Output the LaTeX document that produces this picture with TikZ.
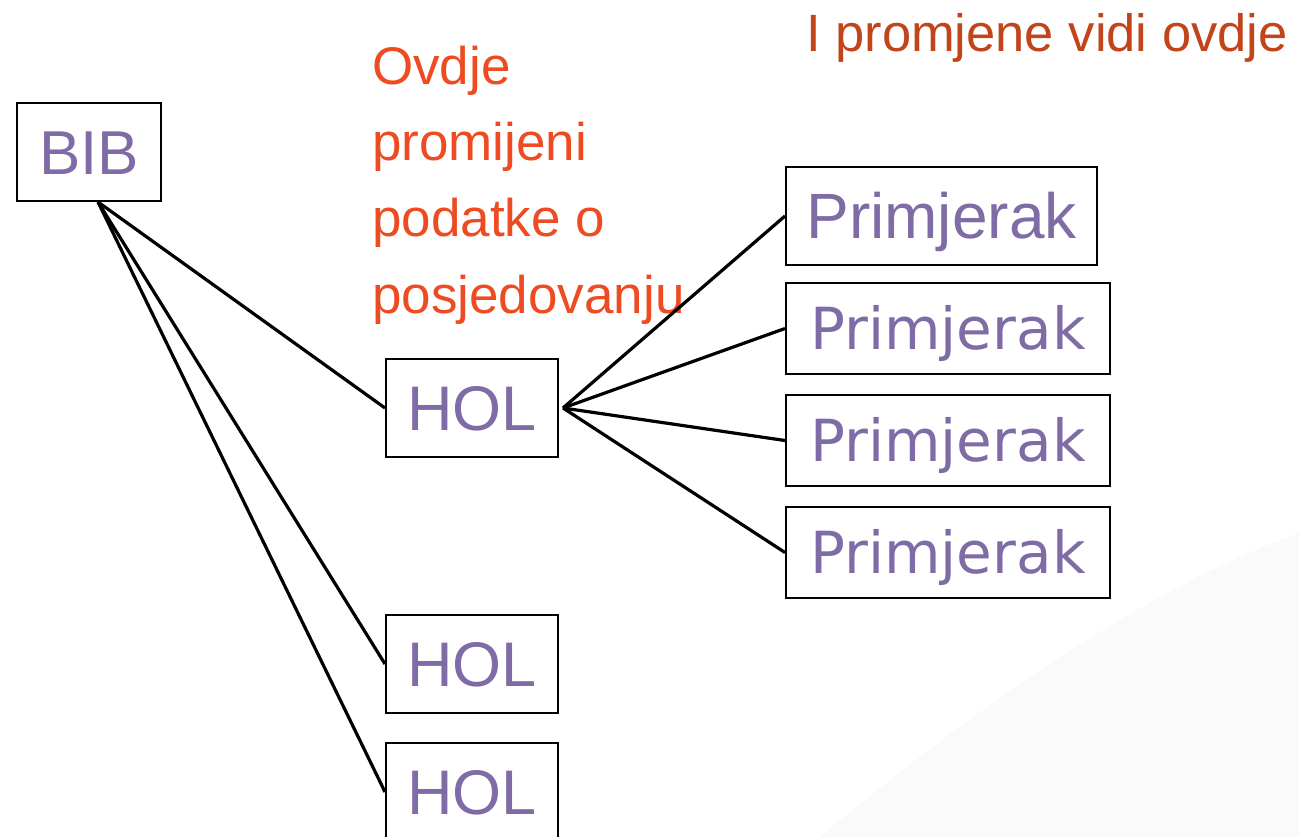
\documentclass[tikz,border=0pt]{standalone}
\usepackage{fontspec}
\setmainfont{Liberation Sans}
\newfontfamily\dvs{DejaVu Sans}
\definecolor{boxtext}{HTML}{7F6BA5}
\definecolor{noteorange}{HTML}{EE4B22}
\definecolor{titleorange}{HTML}{C2441A}
\definecolor{swoosh}{HTML}{FAFAFA}
\begin{document}
\begin{tikzpicture}[x=1pt,y=-1pt,
  box/.style={draw=black, line width=2pt, fill=white, inner sep=0pt, text depth=0pt, text=boxtext},
  bibbox/.style={box, minimum width=144pt, minimum height=98pt, text height=45pt, font=\fontsize{62}{70}\selectfont},
  holbox/.style={box, minimum width=172pt, minimum height=98pt, text height=45pt, font=\fontsize{63}{70}\selectfont},
  pbox/.style={box, minimum width=324pt, minimum height=91pt, text height=42pt, font=\dvs\fontsize{58}{66}\selectfont},
  pboxa/.style={box, minimum width=311pt, minimum height=98pt, text height=46pt, font=\fontsize{64}{70}\selectfont},
  link/.style={draw=black, line width=3.2pt},
  note/.style={anchor=base west, inner sep=0pt, text=noteorange, font=\fontsize{53}{60}\selectfont}
]
\useasboundingbox (0,0) rectangle (1299,837);
\clip (0,0) rectangle (1299,837);
\fill[white] (0,0) rectangle (1299,837);
\fill[swoosh] (820,837) .. controls (960,720) and (1140,590) .. (1299,533) -- (1299,837) -- cycle;

% title
\node[anchor=base west, inner sep=0pt, text=titleorange, font=\fontsize{52.5}{60}\selectfont] (title) at (806,52) {I promjene vidi ovdje};

% note
\node[note] (n1) at (372,85) {Ovdje};
\node[note] (n2) at (372,161) {promijeni};
\node[note] (n3) at (372,237) {podatke o};
\node[note] (n4) at (372,313) {posjedovanju};

% boxes
\node[bibbox] (bib) at (89,152) {BIB};
\node[holbox] (hol1) at (472,408) {HOL};
\node[holbox] (hol2) at (472,664) {HOL};
\node[holbox] (hol3) at (472,792) {HOL};
\node[pboxa] (p1) at (941.5,216) {Primjerak};
\node[pbox] (p2) at (948,328.5) {Primjerak};
\node[pbox] (p3) at (948,440.5) {Primjerak};
\node[pbox] (p4) at (948,552.5) {Primjerak};

\coordinate (bibfoot) at ([xshift=9pt]bib.south);
\coordinate (holtip) at ([xshift=4pt]hol1.east);

% connectors
\draw[link] (bibfoot) -- (hol1.west);
\draw[link] (bibfoot) -- (hol2.west);
\draw[link] (bibfoot) -- (hol3.west);
\draw[link] (holtip) -- (p1.west);
\draw[link] (holtip) -- (p2.west);
\draw[link] (holtip) -- (p3.west);
\draw[link] (holtip) -- (p4.west);
\end{tikzpicture}
\end{document}
